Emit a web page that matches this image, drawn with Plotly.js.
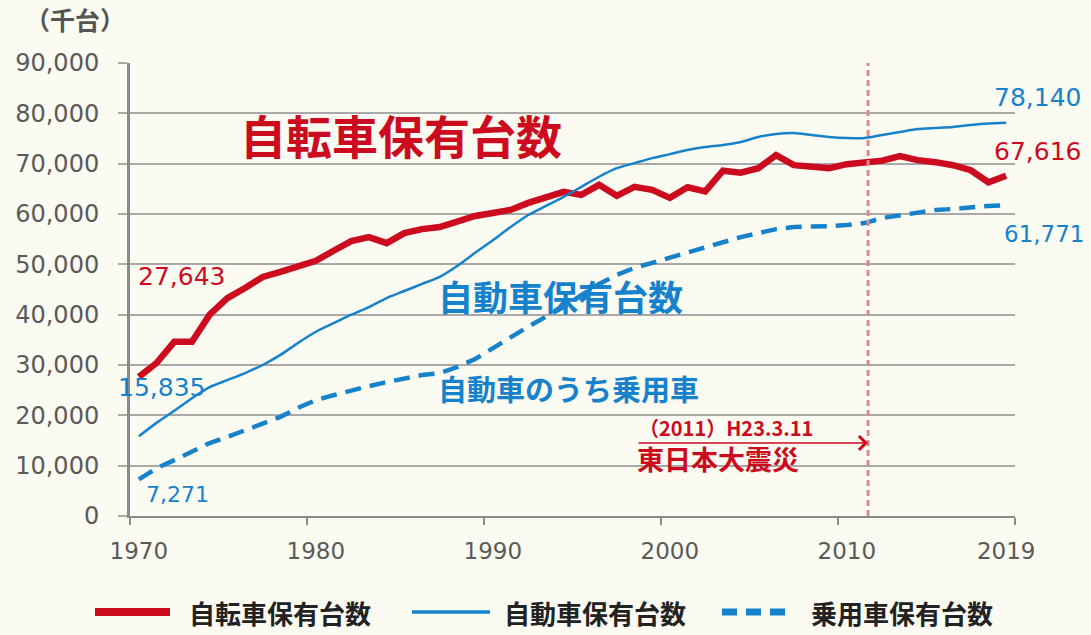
<!DOCTYPE html>
<html>
<head>
<meta charset="utf-8">
<script src="https://cdn.plot.ly/plotly-3.0.1.min.js"></script>
<style>html,body{margin:0;padding:0;background:#fbfbf2;}#chart{width:1091px;height:635px;}</style>
</head>
<body>
<div id="chart"></div>
<script>
const years = [1970,1971,1972,1973,1974,1975,1976,1977,1978,1979,
               1980,1981,1982,1983,1984,1985,1986,1987,1988,1989,
               1990,1991,1992,1993,1994,1995,1996,1997,1998,1999,
               2000,2001,2002,2003,2004,2005,2006,2007,2008,2009,
               2010,2011,2012,2013,2014,2015,2016,2017,2018,2019];

const bicycles = [27643,30400,34600,34600,40000,43300,45300,47500,48500,49700,
                  50700,52700,54600,55400,54200,56200,57000,57400,58400,59600,
                  60200,60800,62200,63200,64400,63800,65800,63600,65400,64800,
                  63200,65300,64500,68600,68200,69100,71700,69700,69300,69100,
                  69900,70300,70600,71500,70700,70300,69700,68700,66300,67616];

const automobiles = [15835,18500,20900,23400,25600,27000,28400,30000,32000,34400,
                     36600,38300,40000,41500,43300,44700,46100,47500,49700,52300,
                     54800,57400,59800,61600,63400,65400,67400,69100,70100,71100,
                     71900,72700,73300,73700,74300,75300,75900,76100,75700,75300,
                     75100,75100,75700,76300,76900,77100,77300,77700,78000,78140];

const passengerCars = [7271,9500,11100,12700,14500,15700,17100,18300,19700,21500,
                       23000,24000,25000,25800,26600,27400,28000,28400,29600,31200,
                       33400,35400,37600,39600,41500,43900,46100,47900,49300,50300,
                       51300,52300,53500,54400,55400,56200,57000,57400,57400,57600,
                       57800,58200,59200,59800,60400,60800,61000,61400,61600,61771];

const seriesNames = ['自転車保有台数','自動車保有台数','乗用車保有台数'];
const xTickVals = [1970,1980,1990,2000,2010,2019];
const yTickVals = [0,10000,20000,30000,40000,50000,60000,70000,80000,90000];
const quakeYear = 2011.2;

const RED = '#cc0b1f';
const BLUE = '#1682cc';
const NUM = 'DejaVu Sans, Verdana, sans-serif';
const JP = 'Noto Sans CJK JP, sans-serif';
const fmt = v => v.toLocaleString('en-US');
const last = a => a[a.length-1];
const lastYear = last(years);

// layout geometry (pixels) -> paper helpers
const M = {l:130, r:76, t:63, b:119};
const W = 1091, H = 635;
const PW = W - M.l - M.r, PH = H - M.t - M.b;
const PX = p => (p - M.l) / PW;
const PY = p => (H - M.b - p) / PH;

const lineStyles = [
  {color: RED, width: 6.5},
  {color: BLUE, width: 2.5, shape: 'spline', smoothing: 0.6},
  {color: BLUE, width: 4.5, dash: '16px,9px'}
];
const seriesData = [bicycles, automobiles, passengerCars];

const traces = seriesData.map((d, i) => ({
  x: years, y: d, name: seriesNames[i], type: 'scatter', mode: 'lines',
  line: lineStyles[i], showlegend: false
}));

const annotations = [
  {xref:'paper', yref:'paper', x:PX(75), y:PY(19), xanchor:'center', yanchor:'middle',
   text:'<b>（千台）</b>', showarrow:false, font:{family:JP, size:25, color:'#555'}},
  {xref:'x', yref:'y', x:1984.8, y:75800, text:'<b>自転車保有台数</b>', showarrow:false,
   font:{family:JP, size:46, color:RED}},
  {xref:'x', yref:'y', x:1993.8, y:43900, text:'<b>自動車保有台数</b>', showarrow:false,
   font:{family:JP, size:35, color:BLUE}},
  {xref:'x', yref:'y', x:1994.3, y:25400, text:'<b>自動車のうち乗用車</b>', showarrow:false,
   font:{family:JP, size:29, color:BLUE}},
  // value labels
  {xref:'x', yref:'y', x:years[0], y:bicycles[0], text:fmt(bicycles[0]), showarrow:false,
   xshift:43, yshift:100, font:{family:NUM, size:25, color:RED}},
  {xref:'x', yref:'y', x:years[0], y:automobiles[0], text:fmt(automobiles[0]), showarrow:false,
   xshift:23, yshift:49, font:{family:NUM, size:25, color:BLUE}},
  {xref:'x', yref:'y', x:years[0], y:passengerCars[0], text:fmt(passengerCars[0]), showarrow:false,
   xshift:39, yshift:-15, font:{family:NUM, size:22, color:BLUE}},
  {xref:'x', yref:'y', x:lastYear, y:last(automobiles), text:fmt(last(automobiles)), showarrow:false,
   xshift:31, yshift:25, font:{family:NUM, size:25, color:BLUE}},
  {xref:'x', yref:'y', x:lastYear, y:last(bicycles), text:fmt(last(bicycles)), showarrow:false,
   xshift:31, yshift:24, font:{family:NUM, size:25, color:RED}},
  {xref:'x', yref:'y', x:lastYear, y:last(passengerCars), text:fmt(last(passengerCars)), showarrow:false,
   xshift:38, yshift:-29, font:{family:NUM, size:23, color:BLUE}},
  // earthquake note
  {xref:'x', yref:'y', x:quakeYear, y:14500, ax:-231, ay:0, text:'', showarrow:true,
   arrowhead:4, arrowsize:1.8, arrowwidth:1.5, arrowcolor:RED},
  {xref:'x', yref:'y', x:2003.2, y:17600, text:'<b>（2011）H23.3.11</b>', showarrow:false,
   font:{family:JP, size:20, color:RED}},
  {xref:'x', yref:'y', x:2002.7, y:11400, text:'<b>東日本大震災</b>', showarrow:false,
   font:{family:JP, size:27, color:RED}}
];

// manual legend (paper coordinates)
const legendItems = [
  {x0:95, x1:170, tx:280, style:{color:RED, width:8}},
  {x0:412, x1:490, tx:595, style:{color:BLUE, width:3.5}},
  {x0:722, x1:787, tx:902, style:{color:BLUE, width:7, dash:'15px,9px'}}
];
const legendY = 612;
const shapes = [
  {type:'line', xref:'x', yref:'paper', x0:quakeYear, x1:quakeYear, y0:0, y1:1,
   line:{color:'#e08a8a', width:3, dash:'6px,4px'}, layer:'above'}
];
legendItems.forEach((it, i) => {
  shapes.push({type:'line', xref:'paper', yref:'paper', x0:PX(it.x0), x1:PX(it.x1),
               y0:PY(legendY), y1:PY(legendY), line:it.style});
  annotations.push({xref:'paper', yref:'paper', x:PX(it.tx), y:PY(legendY),
                    xanchor:'center', yanchor:'middle', showarrow:false,
                    text:'<b>' + seriesNames[i] + '</b>',
                    font:{family:JP, size:26, color:'#222'}});
});

const layout = {
  width: W, height: H,
  margin: {l:M.l, r:M.r, t:M.t, b:M.b, autoexpand:false},
  paper_bgcolor: '#fbfbf2', plot_bgcolor: '#fbfbf2',
  showlegend: false,
  xaxis: {range:[1969.5, 2019.5], tickmode:'array', tickvals:xTickVals,
          ticktext:xTickVals.map(String), ticks:'', showgrid:false, zeroline:false,
          showline:true, linecolor:'#8a8a8a', linewidth:2,
          tickfont:{family:NUM, size:23, color:'#5a5a5a'}, ticklabelstandoff:13,
          minor:{tickmode:'array', tickvals:[1969.5,1979.5,1989.5,1999.5,2009.5,2019.5],
                 ticks:'outside', ticklen:7, tickwidth:2, tickcolor:'#8a8a8a', showgrid:false}},
  yaxis: {range:[0, 90000], tickmode:'array', tickvals:yTickVals,
          ticktext:yTickVals.map(v => fmt(v)), ticks:'outside', ticklen:9, tickwidth:2,
          tickcolor:'#a9a9a9', showgrid:true, gridcolor:'#a9a9a9', gridwidth:2,
          zeroline:false, showline:true, linecolor:'#8a8a8a', linewidth:3,
          tickfont:{family:NUM, size:24, color:'#5a5a5a'}, ticklabelstandoff:14},
  annotations: annotations,
  shapes: shapes
};

Plotly.newPlot('chart', traces, layout, {staticPlot:true, displayModeBar:false});
</script>
</body>
</html>
